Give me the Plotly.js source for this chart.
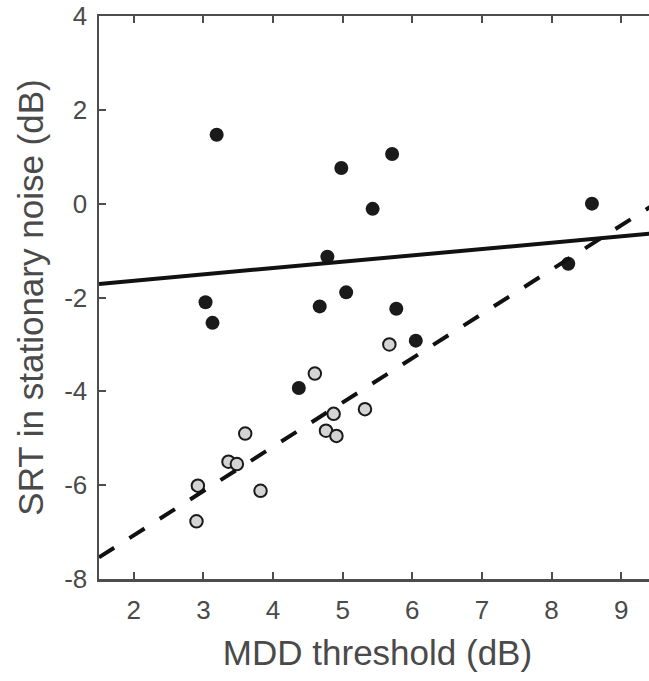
<!DOCTYPE html>
<html>
<head>
<meta charset="utf-8">
<script src="https://cdn.plot.ly/plotly-3.0.1.min.js"></script>
<style>
html,body{margin:0;padding:0;overflow:hidden;background:#fff;}
#chart{width:660px;height:681px;}
</style>
</head>
<body>
<div id="chart"></div>
<script>
// Group 1 (black filled circles)
var blackX = [3.19, 4.98, 5.71, 5.43, 8.58, 4.78, 3.03, 3.13, 4.67, 5.05, 5.77, 8.24, 6.05, 4.37];
var blackY = [1.47, 0.76, 1.06, -0.11, 0.00, -1.13, -2.10, -2.54, -2.19, -1.89, -2.24, -1.28, -2.92, -3.93];
// Group 2 (light gray circles)
var grayX = [4.60, 3.60, 3.36, 3.48, 2.92, 3.82, 2.90, 4.76, 5.67, 4.87, 5.32, 4.91];
var grayY = [-3.62, -4.90, -5.50, -5.55, -6.01, -6.12, -6.77, -4.84, -3.00, -4.48, -4.38, -4.95];
// Regression lines
var fitX = [1.5, 9.5];
var fitBlackY = [-1.71, -0.63];
var fitGrayY = [-7.54, 0.01];
var xTicks = [2, 3, 4, 5, 6, 7, 8, 9];
var yTicks = [-8, -6, -4, -2, 0, 2, 4];

var font = 'Liberation Sans, Arial, Helvetica, sans-serif';
var textColor = '#4a4a4a';
var axisColor = '#4d4d4d';

var traces = [
  {x: blackX, y: blackY, type: 'scatter', mode: 'markers',
   marker: {size: 14, color: '#1a1a1a', line: {width: 0}}},
  {x: grayX, y: grayY, type: 'scatter', mode: 'markers',
   marker: {size: 12.5, color: '#d4d4d4', line: {width: 2, color: '#1a1a1a'}}},
  {x: fitX, y: fitBlackY, type: 'scatter', mode: 'lines',
   line: {color: '#111', width: 4}},
  {x: fitX, y: fitGrayY, type: 'scatter', mode: 'lines',
   line: {color: '#111', width: 4, dash: '18px,18px'}}
];

var axisCommon = {
  showgrid: false, zeroline: false, showline: true, mirror: 'ticks',
  linecolor: axisColor, linewidth: 2.5,
  ticks: 'inside', ticklen: 7, tickwidth: 2, tickcolor: axisColor,
  tickfont: {family: font, size: 26, color: textColor}
};

var layout = {
  width: 660, height: 681,
  margin: {l: 99, r: 4, t: 16, b: 102},
  paper_bgcolor: '#fff', plot_bgcolor: '#fff',
  showlegend: false,
  xaxis: Object.assign({}, axisCommon, {
    range: [1.5, 9.5], tickvals: xTicks, ticktext: xTicks.map(String),
    ticklabelstandoff: 6,
    title: {text: 'MDD threshold (dB)', font: {family: font, size: 35, color: textColor}, standoff: 17}
  }),
  yaxis: Object.assign({}, axisCommon, {
    range: [-8, 4], tickvals: yTicks, ticktext: yTicks.map(String),
    ticklabelstandoff: 4,
    title: {text: 'SRT in stationary noise (dB)', font: {family: font, size: 35, color: textColor}, standoff: 10}
  })
};

Plotly.newPlot('chart', traces, layout, {displayModeBar: false, staticPlot: true});
</script>
</body>
</html>
